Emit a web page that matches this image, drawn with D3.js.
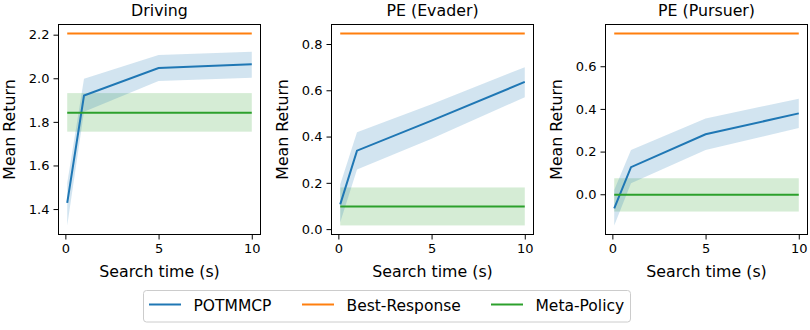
<!DOCTYPE html>
<html><head><meta charset="utf-8">
<script src="https://cdn.jsdelivr.net/npm/d3@7"></script>
<style>body{margin:0;background:#fff;} text{font-family:"DejaVu Sans",sans-serif;}</style>
</head><body>
<svg id="c" width="810" height="330"></svg>
<script>
const searchTimes = [0.1, 1, 5, 10];
const titles = ["Driving", "PE (Evader)", "PE (Pursuer)"];
const potmmcpMean = [[1.428, 1.921, 2.047, 2.064],[0.107, 0.339, 0.469, 0.636],[-0.066, 0.127, 0.281, 0.379]];
const potmmcpLow  = [[1.325, 1.847, 1.988, 2.002],[0.030, 0.258, 0.390, 0.570],[-0.146, 0.052, 0.208, 0.310]];
const potmmcpHigh = [[1.520, 1.998, 2.107, 2.122],[0.193, 0.419, 0.540, 0.700],[0.020, 0.208, 0.355, 0.448]];
const bestResponse = [2.205, 0.845, 0.753];
const metaMean = [1.842, 0.098, -0.002];
const metaLow  = [1.755, 0.016, -0.081];
const metaHigh = [1.932, 0.180, 0.075];
const yTicks = [[1.4,1.6,1.8,2.0,2.2],[0.0,0.2,0.4,0.6,0.8],[0.0,0.2,0.4,0.6]];
const xTicks = [0,5,10];
const legendLabels = ["POTMMCP","Best-Response","Meta-Policy"];
const colors = ["#1f77b4","#ff7f0e","#2ca02c"];

const svg = d3.select("#c");
const lefts = [58, 331, 605];
const W = 203, plotTop = 24, plotBottom = 235;

function pad(ext){const r=ext[1]-ext[0];return [ext[0]-0.05*r, ext[1]+0.05*r];}

titles.forEach((t,i)=>{
  const g = svg.append("g");
  const xs = d3.extent(searchTimes);
  const x = d3.scaleLinear().domain(pad(xs)).range([lefts[i], lefts[i]+W]);
  const allY = potmmcpLow[i].concat(potmmcpHigh[i], [bestResponse[i], metaLow[i], metaHigh[i]]);
  const y = d3.scaleLinear().domain(pad(d3.extent(allY))).range([plotBottom, plotTop]);

  const x0 = searchTimes[0], x1 = searchTimes[searchTimes.length-1];
  g.append("rect").attr("x", x(x0)).attr("width", x(x1)-x(x0))
    .attr("y", y(metaHigh[i])).attr("height", y(metaLow[i])-y(metaHigh[i]))
    .attr("fill", colors[2]).attr("fill-opacity", 0.2);
  const area = d3.area().x((d,j)=>x(searchTimes[j])).y0((d,j)=>y(potmmcpLow[i][j])).y1((d,j)=>y(potmmcpHigh[i][j]));
  g.append("path").attr("d", area(searchTimes)).attr("fill", colors[0]).attr("fill-opacity", 0.2);
  const line = d3.line().x((d,j)=>x(searchTimes[j])).y(d=>y(d));
  g.append("path").attr("d", line(potmmcpMean[i])).attr("fill","none").attr("stroke",colors[0]).attr("stroke-width",2);
  g.append("path").attr("d", line(searchTimes.map(()=>bestResponse[i]))).attr("fill","none").attr("stroke",colors[1]).attr("stroke-width",2);
  g.append("path").attr("d", line(searchTimes.map(()=>metaMean[i]))).attr("fill","none").attr("stroke",colors[2]).attr("stroke-width",2);

  g.append("rect").attr("x", lefts[i]+0.5).attr("y", plotTop+0.5).attr("width", W-1).attr("height", plotBottom-plotTop-1)
    .attr("fill","none").attr("stroke","#000").attr("stroke-width",1);

  const xa = g.append("g").attr("transform",`translate(0,${plotBottom})`)
    .call(d3.axisBottom(x).tickValues(xTicks).tickFormat(d3.format("d")).tickSize(4.5).tickPadding(4));
  const ya = g.append("g").attr("transform",`translate(${lefts[i]},0)`)
    .call(d3.axisLeft(y).tickValues(yTicks[i]).tickFormat(d3.format(".1f")).tickSize(4.5).tickPadding(4));
  [xa,ya].forEach(a=>{a.select(".domain").remove(); a.selectAll("text").attr("font-size",13).attr("fill","#000").style("font-family","DejaVu Sans");
    a.selectAll("line").attr("stroke","#000");});

  g.append("text").attr("x", lefts[i]+W/2).attr("y", 16).attr("text-anchor","middle").attr("font-size",15.8).text(t);
  g.append("text").attr("x", lefts[i]+W/2).attr("y", 277).attr("text-anchor","middle").attr("font-size",15.8).text("Search time (s)");
  const ly = (plotTop+plotBottom)/2;
  g.append("text").attr("transform",`translate(${lefts[i]-43},${ly}) rotate(-90)`).attr("text-anchor","middle").attr("font-size",15.8).text("Mean Return");
});

const lg = svg.append("g");
lg.append("rect").attr("x",143.5).attr("y",290.5).attr("width",487).attr("height",31.5).attr("rx",3)
  .attr("fill","#fff").attr("fill-opacity",0.8).attr("stroke","#cccccc");
const lx = [149, 302, 491];
legendLabels.forEach((l,k)=>{
  lg.append("line").attr("x1",lx[k]).attr("x2",lx[k]+32).attr("y1",304.5).attr("y2",304.5).attr("stroke",colors[k]).attr("stroke-width",2);
  lg.append("text").attr("x",lx[k]+44.5).attr("y",311).attr("font-size",15.5).text(l);
});
</script>
</body></html>
